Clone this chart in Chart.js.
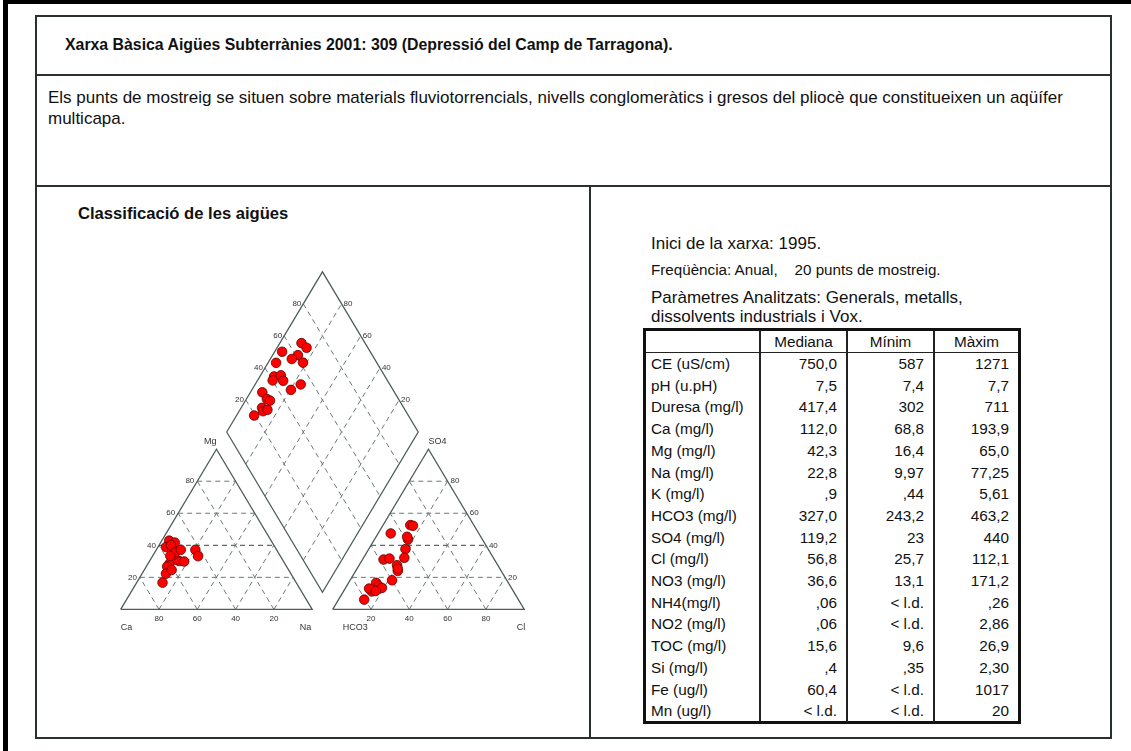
<!DOCTYPE html>
<html>
<head>
<meta charset="utf-8">
<script src="https://cdn.jsdelivr.net/npm/chart.js@4.4.1/dist/chart.umd.min.js"></script>
<style>
  body { margin: 0; background: #fff; font-family: "Liberation Sans", Arial, sans-serif; color: #111; }
  #page { position: relative; width: 1131px; height: 751px; overflow: hidden; }
  .abs { position: absolute; }
  .txt { position: absolute; font-size: 17px; white-space: nowrap; }
  #tbl { position: absolute; left: 643px; top: 328px; width: 378px; height: 396px; border: 3px solid #111; box-sizing: border-box; }
  #tbl table { border-collapse: collapse; table-layout: fixed; width: 372px; font-size: 15.3px; }
  #tbl td { padding: 0; white-space: nowrap; overflow: hidden; }
  #tbl td.num { text-align: right; padding-right: 9px; border-left: 2px solid #222; }
  #tbl td.lab { padding-left: 5px; }
  #tbl tr.head td { text-align: center; border-bottom: 1px solid #222; height: 21px; line-height: 21px; }
  #tbl tr.head td.num { padding-right: 0; }
  #tbl tr.row td { height: 21.7px; line-height: 21.7px; }
</style>
</head>
<body>
<div id="page">
  <div class="abs" style="left:3px;top:0;width:5px;height:751px;background:#000"></div>
  <div class="abs" style="left:3px;top:0;width:1128px;height:4px;background:#000"></div>
  <div class="abs" style="left:35px;top:15px;width:1077px;height:724px;border:2px solid #2a3030;box-sizing:border-box"></div>
  <div class="abs" style="left:35px;top:74px;width:1077px;height:2px;background:#2a3030"></div>
  <div class="abs" style="left:35px;top:185px;width:1077px;height:2px;background:#2a3030"></div>
  <div class="abs" style="left:589px;top:185px;width:2px;height:554px;background:#2a3030"></div>

  <div class="txt" style="left:65px;top:36px;line-height:18px;font-size:15.85px;font-weight:bold">Xarxa Bàsica Aigües Subterrànies 2001: 309 (Depressió del Camp de Tarragona).</div>
  <div class="txt" style="left:48px;top:86.5px;line-height:21px">Els punts de mostreig se situen sobre materials fluviotorrencials, nivells conglomeràtics i gresos del pliocè que constitueixen un aqüífer<br>multicapa.</div>
  <div class="txt" style="left:78px;top:205px;line-height:18px;font-size:16.6px;font-weight:bold">Classificació de les aigües</div>

  <div class="txt" style="left:651px;top:234px;line-height:20px">Inici de la xarxa: 1995.</div>
  <div class="txt" style="left:651px;top:260px;line-height:20px;font-size:15.2px">Freqüència: Anual,&nbsp;&nbsp;&nbsp; 20 punts de mostreig.</div>
  <div class="txt" style="left:651px;top:287.5px;line-height:19px">Paràmetres Analitzats: Generals, metalls,<br>dissolvents industrials i Vox.</div>

  <div id="tbl"><table id="stats"></table></div>

  <canvas id="piper" width="490" height="410" style="position:absolute;left:76px;top:240px;width:490px;height:410px"></canvas>
</div>

<script>
// table values
const params = ['CE (uS/cm)', 'pH (u.pH)', 'Duresa (mg/l)', 'Ca (mg/l)', 'Mg (mg/l)', 'Na (mg/l)', 'K (mg/l)', 'HCO3 (mg/l)',
  'SO4 (mg/l)', 'Cl (mg/l)', 'NO3 (mg/l)', 'NH4(mg/l)', 'NO2 (mg/l)', 'TOC (mg/l)', 'Si (mg/l)', 'Fe (ug/l)', 'Mn (ug/l)'];
const mediana = ['750,0', '7,5', '417,4', '112,0', '42,3', '22,8', ',9', '327,0', '119,2', '56,8', '36,6', ',06', ',06', '15,6', ',4', '60,4', '< l.d.'];
const minim = ['587', '7,4', '302', '68,8', '16,4', '9,97', ',44', '243,2', '23', '25,7', '13,1', '< l.d.', '< l.d.', '9,6', ',35', '< l.d.', '< l.d.'];
const maxim = ['1271', '7,7', '711', '193,9', '65,0', '77,25', '5,61', '463,2', '440', '112,1', '171,2', ',26', '2,86', '26,9', '2,30', '1017', '20'];
const colHeads = ['', 'Mediana', 'Mínim', 'Màxim'];

// piper percentages (meq %), one entry per sample point
const ca = [57.6, 54.4, 53.2, 55.7, 60.4, 56.9, 51.9, 50.9, 55.4, 54.3, 69.8, 42.4, 43.0, 53.7, 53.8, 50.0, 62.4, 65.2, 61.1, 57.4];
const mg = [31.1, 30.2, 42.9, 31.1, 28.4, 38.9, 29.9, 41.7, 34.0, 37.8, 16.7, 37.2, 33.2, 40.1, 35.5, 37.2, 26.7, 22.3, 24.6, 33.4];
const na = [11.3, 15.4, 3.9, 13.2, 11.2, 4.2, 18.2, 7.4, 10.6, 7.9, 13.5, 20.4, 23.8, 6.2, 10.7, 12.8, 10.9, 12.5, 14.3, 9.2];
const hco3 = [33.2, 32.0, 46.0, 38.8, 43.2, 52.6, 38.5, 57.9, 54.0, 59.9, 54.5, 53.3, 46.5, 69.0, 68.7, 67.6, 74.0, 74.5, 71.8, 80.5];
const so4 = [52.6, 52.2, 47.4, 43.7, 37.6, 27.6, 45.3, 31.1, 24.0, 18.2, 31.7, 25.5, 32.2, 16.6, 14.6, 13.4, 11.2, 13.0, 11.5, 6.1];
const cl = [14.2, 15.8, 6.6, 17.5, 19.2, 19.8, 16.2, 11.0, 22.0, 21.9, 13.8, 21.2, 21.3, 14.4, 16.7, 19.0, 14.8, 12.5, 16.7, 13.4];
const gridTicks = [20, 40, 60, 80];

// build the table
const tbl = document.getElementById('stats');
let html = '<colgroup><col style="width:114px"><col style="width:87px"><col style="width:87px"><col style="width:84px"></colgroup>';
html += '<tr class="head">' + colHeads.map((c, i) => `<td class="${i ? 'num' : 'lab'}">${c}</td>`).join('') + '</tr>';
params.forEach((p, i) => {
  html += `<tr class="row"><td class="lab">${p}</td><td class="num">${mediana[i]}</td><td class="num">${minim[i]}</td><td class="num">${maxim[i]}</td></tr>`;
});
tbl.innerHTML = html;

// piper geometry (triangle side = 100)
const gap = 10.7;
const h = Math.sqrt(3) / 2;
const catXY = (m, n) => ({ x: n + m / 2, y: m * h });
const anXY = (s, c) => ({ x: 100 + gap + c + s / 2, y: s * h });
const diaXY = (n, s) => ({ x: 50 + gap / 2 + (n + s) / 2, y: h * (100 + gap + s - n) });

const outlineColor = '#505d5d';
const dashColor = '#6a7878';
const datasets = [];

function addLine(pts, dashed, color) {
  datasets.push({
    type: 'scatter',
    data: pts,
    showLine: true,
    borderColor: color || (dashed ? dashColor : outlineColor),
    borderWidth: dashed ? 1 : 1.3,
    borderDash: dashed ? [5, 4] : [],
    pointRadius: 0,
    fill: false,
    order: dashed ? 3 : 2
  });
}

// outlines
addLine([catXY(0, 0), catXY(0, 100), catXY(100, 0), catXY(0, 0)], false);
addLine([anXY(0, 0), anXY(0, 100), anXY(100, 0), anXY(0, 0)], false);
addLine([diaXY(0, 0), diaXY(0, 100), diaXY(100, 100), diaXY(100, 0), diaXY(0, 0)], false);

// dashed grid
gridTicks.forEach(k => {
  const dark = k === 40 ? '#3a4444' : null;
  addLine([catXY(k, 0), catXY(k, 100 - k)], true, dark);
  addLine([catXY(0, k), catXY(100 - k, k)], true);
  addLine([catXY(0, 100 - k), catXY(100 - k, 0)], true);
  addLine([anXY(k, 0), anXY(k, 100 - k)], true, dark);
  addLine([anXY(0, k), anXY(100 - k, k)], true);
  addLine([anXY(0, 100 - k), anXY(100 - k, 0)], true);
  addLine([diaXY(k, 0), diaXY(k, 100)], true);
  addLine([diaXY(0, k), diaXY(100, k)], true);
});

// sample points
const pointStyle = {
  type: 'scatter',
  backgroundColor: '#ff0000',
  borderColor: '#5a0000',
  borderWidth: 0.8,
  pointRadius: 4.8,
  order: 0
};
datasets.unshift(
  Object.assign({ data: mg.map((m, i) => catXY(m, na[i])) }, pointStyle),
  Object.assign({ data: so4.map((s, i) => anXY(s, cl[i])) }, pointStyle),
  Object.assign({ data: na.map((n, i) => diaXY(n, so4[i] + cl[i])) }, pointStyle)
);

// labels drawn through the chart scales
const piperLabels = {
  id: 'piperLabels',
  afterDatasetsDraw(chart) {
    const ctx = chart.ctx;
    const sx = chart.scales.x, sy = chart.scales.y;
    const put = (pt, text, align, dx, dy, size) => {
      ctx.font = (size || 8) + 'px "Liberation Sans", Arial, sans-serif';
      ctx.textAlign = align;
      ctx.textBaseline = 'middle';
      ctx.fillText(text, sx.getPixelForValue(pt.x) + dx, sy.getPixelForValue(pt.y) + dy);
    };
    ctx.save();
    ctx.fillStyle = '#333';
    gridTicks.forEach(k => {
      put(catXY(k, 0), String(k), 'right', -3, 0);
      put(catXY(0, 100 - k), String(k), 'center', 0, 9);
      put(anXY(0, k), String(k), 'center', 0, 9);
      put(anXY(k, 100 - k), String(k), 'left', 3, 0);
      put(diaXY(0, k), String(k), 'right', -2, 0);
      put(diaXY(100 - k, 100), String(k), 'left', 2, 0);
    });
    put(catXY(0, 0), 'Ca', 'left', 0, 18, 9);
    put(catXY(0, 100), 'Na', 'right', -1, 18, 9);
    put(catXY(100, 0), 'Mg', 'right', 0, -8, 9);
    put(anXY(0, 0), 'HCO3', 'left', 10, 18, 9);
    put(anXY(0, 100), 'Cl', 'right', 1, 18, 9);
    put(anXY(100, 0), 'SO4', 'left', 0, -8, 9);
    ctx.restore();
  }
};

new Chart(document.getElementById('piper').getContext('2d'), {
  type: 'scatter',
  data: { datasets },
  options: {
    responsive: false,
    animation: false,
    devicePixelRatio: 1,
    events: [],
    layout: { padding: 0 },
    plugins: { legend: { display: false }, tooltip: { enabled: false }, title: { display: false } },
    scales: {
      x: { type: 'linear', display: false, min: -20.408, max: 229.592 },
      y: { type: 'linear', display: false, min: -18.92, max: 196.64 }
    }
  },
  plugins: [piperLabels]
});
</script>
</body>
</html>
